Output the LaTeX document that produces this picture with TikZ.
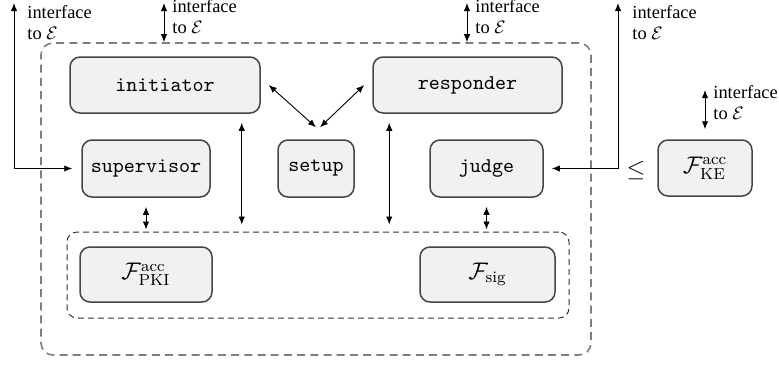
\documentclass[tikz,border=0pt]{standalone}
\usepackage{fontspec}
\newfontfamily\labelfont{Liberation Serif}
\usetikzlibrary{arrows.meta,calc}

\definecolor{boxfill}{HTML}{F1F1F1}
\definecolor{boxline}{HTML}{454545}
\definecolor{outerline}{HTML}{7F7F7F}

\tikzset{
  comp/.style={draw=boxline, fill=boxfill, line width=0.75pt, rounded corners=5pt,
    font=\fontsize{10.5}{12}\selectfont\ttfamily, inner sep=0pt},
  fbox/.style={comp, font=\fontsize{12}{14}\selectfont},
  iface/.style={font=\labelfont\fontsize{9.2}{10.4}\selectfont, align=left,
    anchor=north west, inner sep=0pt},
  conn/.style={line width=0.45pt, {Latex[length=4pt,width=3.2pt]}-{Latex[length=4pt,width=3.2pt]}},
}

\begin{document}
\begin{tikzpicture}[x=0.5pt, y=-0.5pt]
  \useasboundingbox (0,0) rectangle (779,365);

  % protocol boundary and shared functionalities
  \node[draw=outerline, line width=0.8pt, dash pattern=on 4pt off 2.6pt,
        rounded corners=6pt, minimum width=275pt, minimum height=156pt, inner sep=0pt]
        (outer) at (316,199) {};
  \node[draw=black!80, line width=0.5pt, dash pattern=on 3pt off 2pt,
        rounded corners=5pt, minimum width=251pt, minimum height=43pt, inner sep=0pt]
        (inner) at (318,275) {};

  % parties
  \node[comp, minimum width=95pt, minimum height=28pt] (init) at (165,85) {initiator};
  \node[comp, minimum width=94.5pt, minimum height=28pt] (resp) at (467.5,85) {responder};
  \node[comp, minimum width=64pt, minimum height=28.5pt] (sup) at (146,168.5) {supervisor};
  \node[comp, minimum width=38pt, minimum height=28.5pt] (setup) at (316,168.5) {setup};
  \node[comp, minimum width=56.5pt, minimum height=28.5pt] (judge) at (486.5,168.5) {judge};

  % functionalities
  \node[fbox, minimum width=66pt, minimum height=27.5pt] (pki) at (146,274.5)
        {$\mathcal{F}_{\mathrm{PKI}}^{\mathrm{acc}}$};
  \node[fbox, minimum width=67.5pt, minimum height=27.5pt] (sig) at (487.5,274.5)
        {$\mathcal{F}_{\mathrm{sig}}$};
  \node[fbox, minimum width=47pt, minimum height=28pt] (fke) at (705,168)
        {$\mathcal{F}_{\mathrm{KE}}^{\mathrm{acc}}$};
  \node[font=\fontsize{12}{14}\selectfont] (leq) at (636,170) {$\leq$};

  % environment interfaces
  \coordinate (lE) at (14,3);
  \coordinate (iE) at (164,3);
  \coordinate (rE) at (467,3);
  \coordinate (jE) at (618,3);
  \coordinate (kE) at (705,90);

  \draw[conn, shorten >=4.5pt] (lE) |- (sup.west);
  \draw[conn] (iE) -- (iE |- outer.north);
  \draw[conn] (rE) -- (rE |- outer.north);
  \draw[conn, shorten >=4pt] (jE) |- (judge.east);
  \draw[conn, shorten >=5pt] (kE) -- (fke.north);

  \node[iface] (lEl) at (27,5) {interface\\to $\mathcal{E}$};
  \node[iface] (iEl) at (172,-1) {interface\\to $\mathcal{E}$};
  \node[iface] (rEl) at (475,-1) {interface\\to $\mathcal{E}$};
  \node[iface] (jEl) at (632,5) {interface\\to $\mathcal{E}$};
  \node[iface] (kEl) at (713,85) {interface\\to $\mathcal{E}$};

  % internal connections
  \draw[conn] ([xshift=4pt]init.east) -- ([yshift=6pt]setup.north);
  \draw[conn] ([xshift=-4pt]resp.west) -- ([xshift=2pt,yshift=6pt]setup.north);
  \draw[conn, shorten <=4.5pt, shorten >=3.5pt]
        ([xshift=-9.5pt]init.south east) -- ([xshift=-9.5pt]init.south east |- inner.north);
  \draw[conn, shorten <=4.5pt, shorten >=3.5pt]
        ([xshift=8.5pt]resp.south west) -- ([xshift=8.5pt]resp.south west |- inner.north);
  \draw[conn, shorten <=4.5pt, shorten >=1pt] (sup.south) -- (sup.south |- inner.north);
  \draw[conn, shorten <=4.5pt, shorten >=1pt] (judge.south) -- (judge.south |- inner.north);
\end{tikzpicture}
\end{document}
